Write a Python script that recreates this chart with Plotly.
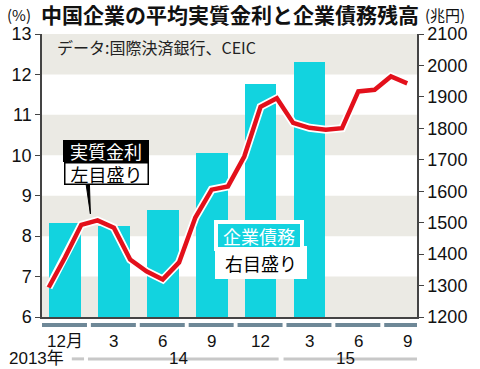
import plotly.graph_objects as go

# ---- data ----
quarter_labels = ["12月", "3", "6", "9", "12", "3", "6", "9"]
debt_quarters = ["2013-12", "2014-03", "2014-06", "2014-09", "2014-12", "2015-03"]
debt_values = [1500, 1490, 1540, 1720, 1940, 2010]  # 兆円 (right axis)

rate_months = ["2013-11", "2013-12", "2014-01", "2014-02", "2014-03", "2014-04",
               "2014-05", "2014-06", "2014-07", "2014-08", "2014-09", "2014-10",
               "2014-11", "2014-12", "2015-01", "2015-02", "2015-03", "2015-04",
               "2015-05", "2015-06", "2015-07", "2015-08", "2015-09"]
rate_values = [6.73, 7.47, 8.28, 8.39, 8.21, 7.42, 7.13, 6.93, 7.35, 8.46, 9.15, 9.23,
               9.97, 11.20, 11.41, 10.80, 10.68, 10.63, 10.67, 11.58, 11.62, 11.95, 11.78]

year_labels = ["2013年", "14", "15"]
left_ticks = list(range(6, 14))
right_ticks = list(range(1200, 2101, 100))
LEFT_RANGE = [6, 13]
RIGHT_RANGE = [1200, 2100]

# ---- helpers: month string -> quarter position (Dec 2013 = 0) ----
def pos(m):
    y, mo = map(int, m.split("-"))
    return ((y - 2013) * 12 + mo - 12) / 3.0

def lp(v):  # left-axis value -> paper fraction
    return (v - LEFT_RANGE[0]) / (LEFT_RANGE[1] - LEFT_RANGE[0])

XR = [-0.47, 7.2]
RED = "#e3101b"
CYAN = "#12d3df"
BAND = "#ebeae4"
FONT = "Liberation Sans, Noto Sans CJK JP, sans-serif"
JFONT = "Noto Sans CJK JP, sans-serif"

fig = go.Figure()

# bars on the right-side axis ("y"), line on the left-side overlay axis ("y2") so it draws on top
fig.add_trace(go.Bar(x=[pos(m) for m in debt_quarters], y=debt_values, yaxis="y",
                     width=0.65, marker=dict(color=CYAN, line=dict(width=0)),
                     showlegend=False, hoverinfo="skip"))
rx = [pos(m) for m in rate_months]
fig.add_trace(go.Scatter(x=rx, y=rate_values, mode="lines", yaxis="y2",
                         line=dict(color="white", width=8), showlegend=False,
                         hoverinfo="skip"))
fig.add_trace(go.Scatter(x=rx, y=rate_values, mode="lines", yaxis="y2",
                         line=dict(color=RED, width=4.5), showlegend=False))

shapes = []
for k in [6, 8, 10, 12]:
    shapes.append(dict(type="rect", xref="paper", yref="paper", x0=0, x1=1,
                       y0=lp(k), y1=lp(k + 1),
                       fillcolor=BAND, line=dict(width=0), layer="below"))
# quarter segments under axis
for i in range(len(quarter_labels)):
    shapes.append(dict(type="line", xref="x", yref="paper", x0=i - 0.47,
                       x1=min(i + 0.45, XR[1]), y0=-0.028, y1=-0.028,
                       line=dict(color="#6e8897", width=4)))
# year lines
year_spans = [(0.14, 0.39), (0.47, 4.37), (4.47, XR[1])]
for (a, b) in year_spans:
    shapes.append(dict(type="line", xref="x", yref="paper", x0=a, x1=b,
                       y0=-0.148, y1=-0.148, line=dict(color="#c8c8c8", width=3)))
# pointer for 実質金利 label
shapes.append(dict(type="path", xref="x", yref="paper",
                   path=f"M 0.43 {lp(9.30)} L 0.52 {lp(8.55)} L 0.50 {lp(9.30)} Z",
                   fillcolor="black", line=dict(color="black", width=1)))

ann = []
ann.append(dict(text="<b>中国企業の平均実質金利と企業債務残高</b>", xref="paper", yref="paper",
                x=-0.008, y=1.072, xanchor="left", yanchor="middle", showarrow=False,
                font=dict(family=JFONT, size=21, color="#111")))
ann.append(dict(text="(%)", xref="paper", yref="paper", x=-0.098, y=1.07,
                xanchor="left", yanchor="middle", showarrow=False,
                font=dict(family=JFONT, size=15, color="#111")))
ann.append(dict(text="(兆円)", xref="paper", yref="paper", x=1.0, y=1.07,
                xanchor="left", yanchor="middle", showarrow=False, xshift=6,
                font=dict(family=JFONT, size=15, color="#111")))
ann.append(dict(text="データ:国際決済銀行、CEIC", xref="paper", yref="paper", x=0.034, y=0.954,
                xanchor="left", yanchor="middle", showarrow=False,
                font=dict(family=JFONT, size=16, color="#222")))
# quarter labels
for i, t in enumerate(quarter_labels):
    ann.append(dict(text=t, xref="x", yref="paper", x=i, y=-0.085, xanchor="center",
                    yanchor="middle", showarrow=False,
                    font=dict(family=FONT, size=17, color="#111")))
# year labels
ann.append(dict(text=year_labels[0], xref="paper", yref="paper", x=-0.093, y=-0.148,
                xanchor="left", yanchor="middle", showarrow=False,
                font=dict(family=FONT, size=17, color="#111")))
for lab, (a, b) in zip(year_labels[1:], year_spans[1:]):
    ann.append(dict(text=lab, xref="x", yref="paper", x=(a + b) / 2 - 0.1, y=-0.148,
                    xanchor="center", yanchor="middle", showarrow=False,
                    font=dict(family=FONT, size=17, color="#111")))
# legend boxes
ann.append(dict(text="実質金利", xref="x", yref="paper", x=0.845, y=lp(10.10), showarrow=False,
                xanchor="center", yanchor="middle",
                bgcolor="black", bordercolor="black", borderwidth=1, width=84, height=20,
                borderpad=0, font=dict(family=JFONT, size=18, color="white")))
ann.append(dict(text="左目盛り", xref="x", yref="paper", x=0.845, y=lp(9.56), showarrow=False,
                xanchor="center", yanchor="middle",
                bgcolor="white", bordercolor="black", borderwidth=1.5, width=82, height=20,
                borderpad=0, font=dict(family=JFONT, size=18, color="black")))
ann.append(dict(text="右目盛り", xref="x", yref="paper", x=4.0, y=lp(7.35), showarrow=False,
                xanchor="center", yanchor="middle",
                bgcolor="white", borderwidth=0, width=92, height=33, borderpad=0,
                font=dict(family=JFONT, size=18, color="black")))
ann.append(dict(text="企業債務", xref="x", yref="paper", x=3.97, y=lp(8.02), showarrow=False,
                xanchor="center", yanchor="middle",
                bgcolor=CYAN, bordercolor="white", borderwidth=4, width=82, height=23,
                borderpad=0, font=dict(family=JFONT, size=18, color="white")))

fig.update_layout(
    width=480, height=369,
    margin=dict(l=40, r=63, t=34, b=52),
    paper_bgcolor="white", plot_bgcolor="rgba(0,0,0,0)",
    showlegend=False, bargap=0,
    shapes=shapes, annotations=ann,
    xaxis=dict(range=XR, showgrid=False, zeroline=False, showticklabels=False,
               showline=True, linecolor="#444", linewidth=1.5, ticks=""),
    yaxis=dict(range=RIGHT_RANGE, tickvals=right_ticks, side="right",
               showgrid=False, zeroline=False, showline=True, linecolor="#444",
               linewidth=1.5, ticks="outside", ticklen=5, tickcolor="#444", tickwidth=1.2,
               tickfont=dict(family=FONT, size=18, color="#111")),
    yaxis2=dict(range=LEFT_RANGE, tickvals=left_ticks, overlaying="y", side="left",
                showgrid=False, zeroline=False,
                showline=True, linecolor="#444", linewidth=1.5, ticks="outside",
                ticklen=5, tickcolor="#444", tickwidth=1.2,
                tickfont=dict(family=FONT, size=18, color="#111")),
)

fig.write_html("out.html", config={"displayModeBar": False},
               post_script="document.body.style.margin='0';document.body.style.overflow='hidden';")
